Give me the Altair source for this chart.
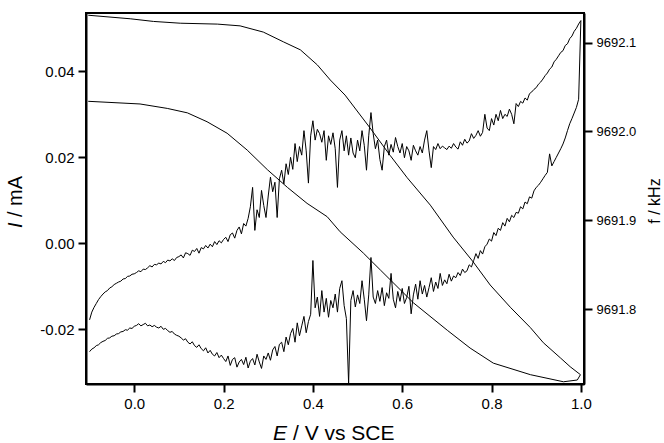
import altair as alt
import pandas as pd

# Potential grid (V vs SCE) shared by both current branches
E_grid = [
    -0.100, -0.095, -0.090, -0.085, -0.080, -0.075, -0.070, -0.065, -0.060, -0.055,
    -0.050, -0.045, -0.040, -0.035, -0.030, -0.025, -0.020, -0.015, -0.010, -0.005,
    0.000, 0.005, 0.010, 0.015, 0.020, 0.025, 0.030, 0.035, 0.040, 0.045,
    0.050, 0.055, 0.060, 0.065, 0.070, 0.075, 0.080, 0.085, 0.090, 0.095,
    0.100, 0.105, 0.110, 0.115, 0.120, 0.125, 0.130, 0.135, 0.140, 0.145,
    0.150, 0.155, 0.160, 0.165, 0.170, 0.175, 0.180, 0.185, 0.190, 0.195,
    0.200, 0.205, 0.210, 0.215, 0.220, 0.225, 0.230, 0.235, 0.240, 0.245,
    0.250, 0.255, 0.260, 0.265, 0.270, 0.275, 0.280, 0.285, 0.290, 0.295,
    0.300, 0.305, 0.310, 0.315, 0.320, 0.325, 0.330, 0.335, 0.340, 0.345,
    0.350, 0.355, 0.360, 0.365, 0.370, 0.375, 0.380, 0.385, 0.390, 0.395,
    0.400, 0.405, 0.410, 0.415, 0.420, 0.425, 0.430, 0.435, 0.440, 0.445,
    0.450, 0.455, 0.460, 0.465, 0.470, 0.475, 0.480, 0.485, 0.490, 0.495,
    0.500, 0.505, 0.510, 0.515, 0.520, 0.525, 0.530, 0.535, 0.540, 0.545,
    0.550, 0.555, 0.560, 0.565, 0.570, 0.575, 0.580, 0.585, 0.590, 0.595,
    0.600, 0.605, 0.610, 0.615, 0.620, 0.625, 0.630, 0.635, 0.640, 0.645,
    0.650, 0.655, 0.660, 0.665, 0.670, 0.675, 0.680, 0.685, 0.690, 0.695,
    0.700, 0.705, 0.710, 0.715, 0.720, 0.725, 0.730, 0.735, 0.740, 0.745,
    0.750, 0.755, 0.760, 0.765, 0.770, 0.775, 0.780, 0.785, 0.790, 0.795,
    0.800, 0.805, 0.810, 0.815, 0.820, 0.825, 0.830, 0.835, 0.840, 0.845,
    0.850, 0.855, 0.860, 0.865, 0.870, 0.875, 0.880, 0.885, 0.890, 0.895,
    0.900, 0.905, 0.910, 0.915, 0.920, 0.925, 0.930, 0.935, 0.940, 0.945,
    0.950, 0.955, 0.960, 0.965, 0.970, 0.975, 0.980, 0.985, 0.990, 0.995,
    1.000,
]

# Current (mA), anodic (forward) scan
I_forward = [
    -0.0178, -0.0160, -0.0149, -0.0140, -0.0131, -0.0124, -0.0118, -0.0113, -0.0110, -0.0104,
    -0.0101, -0.0096, -0.0093, -0.0090, -0.0088, -0.0083, -0.0082, -0.0077, -0.0076, -0.0072,
    -0.0071, -0.0068, -0.0064, -0.0066, -0.0060, -0.0061, -0.0057, -0.0052, -0.0055, -0.0049,
    -0.0050, -0.0046, -0.0048, -0.0042, -0.0045, -0.0039, -0.0041, -0.0036, -0.0040, -0.0033,
    -0.0031, -0.0027, -0.0034, -0.0022, -0.0024, -0.0028, -0.0016, -0.0019, -0.0012, -0.0023,
    -0.0010, -0.0013, -0.0005, -0.0011, -0.0002, -0.0008, 0.0004, -0.0003, 0.0006, 0.0001,
    0.0009, 0.0014, 0.0004, 0.0020, 0.0024, 0.0012, 0.0030, 0.0038, 0.0022, 0.0046,
    0.0040, 0.0058, 0.0085, 0.0130, 0.0030, 0.0078, 0.0060, 0.0123, 0.0088, 0.0060,
    0.0110, 0.0154, 0.0120, 0.0142, 0.0060, 0.0150, 0.0170, 0.0138, 0.0185, 0.0160,
    0.0200, 0.0172, 0.0232, 0.0190, 0.0225, 0.0205, 0.0262, 0.0215, 0.0140, 0.0250,
    0.0285, 0.0240, 0.0265, 0.0255, 0.0235, 0.0262, 0.0193, 0.0250, 0.0230, 0.0257,
    0.0220, 0.0130, 0.0240, 0.0262, 0.0215, 0.0250, 0.0205, 0.0245, 0.0210, 0.0199,
    0.0240, 0.0215, 0.0262, 0.0228, 0.0170, 0.0250, 0.0304, 0.0255, 0.0220, 0.0240,
    0.0195, 0.0170, 0.0225, 0.0240, 0.0205, 0.0230, 0.0212, 0.0246, 0.0225, 0.0210,
    0.0232, 0.0199, 0.0225, 0.0215, 0.0193, 0.0228, 0.0215, 0.0205, 0.0225, 0.0210,
    0.0240, 0.0262, 0.0215, 0.0176, 0.0225, 0.0218, 0.0232, 0.0220, 0.0226, 0.0222,
    0.0218, 0.0226, 0.0221, 0.0232, 0.0224, 0.0219, 0.0236, 0.0228, 0.0242, 0.0233,
    0.0238, 0.0255, 0.0244, 0.0251, 0.0262, 0.0249, 0.0258, 0.0300, 0.0268, 0.0262,
    0.0290, 0.0275, 0.0300, 0.0285, 0.0309, 0.0290, 0.0300, 0.0295, 0.0312, 0.0300,
    0.0278, 0.0325, 0.0318, 0.0330, 0.0326, 0.0338, 0.0333, 0.0348, 0.0352, 0.0358,
    0.0362, 0.0370, 0.0375, 0.0382, 0.0390, 0.0396, 0.0405, 0.0410, 0.0422, 0.0428,
    0.0436, 0.0444, 0.0448, 0.0460, 0.0464, 0.0476, 0.0482, 0.0493, 0.0500, 0.0510,
    0.0518,
]

# Current (mA), cathodic (reverse) scan, listed on the same ascending grid
I_reverse = [
    -0.0252, -0.0246, -0.0243, -0.0238, -0.0236, -0.0231, -0.0228, -0.0226, -0.0221, -0.0220,
    -0.0216, -0.0215, -0.0211, -0.0210, -0.0206, -0.0205, -0.0201, -0.0202, -0.0197, -0.0198,
    -0.0193, -0.0191, -0.0187, -0.0192, -0.0189, -0.0186, -0.0192, -0.0190, -0.0194, -0.0191,
    -0.0195, -0.0197, -0.0193, -0.0200, -0.0198, -0.0203, -0.0207, -0.0205, -0.0211, -0.0214,
    -0.0216, -0.0220, -0.0225, -0.0222, -0.0230, -0.0234, -0.0229, -0.0238, -0.0242, -0.0236,
    -0.0245, -0.0250, -0.0243, -0.0255, -0.0249, -0.0258, -0.0262, -0.0254, -0.0266, -0.0260,
    -0.0268, -0.0275, -0.0262, -0.0284, -0.0270, -0.0266, -0.0288, -0.0276, -0.0270, -0.0282,
    -0.0265, -0.0290, -0.0274, -0.0268, -0.0283, -0.0258, -0.0276, -0.0291, -0.0262, -0.0270,
    -0.0255, -0.0272, -0.0248, -0.0240, -0.0262, -0.0235, -0.0230, -0.0252, -0.0218, -0.0236,
    -0.0210, -0.0198, -0.0230, -0.0185, -0.0215, -0.0192, -0.0170, -0.0208, -0.0182, -0.0165,
    -0.0040, -0.0150, -0.0125, -0.0170, -0.0110, -0.0160, -0.0128, -0.0172, -0.0133, -0.0150,
    -0.0118, -0.0160, -0.0105, -0.0087, -0.0145, -0.0175, -0.0326, -0.0133, -0.0110, -0.0148,
    -0.0120, -0.0140, -0.0087, -0.0130, -0.0180, -0.0120, -0.0033, -0.0125, -0.0140, -0.0110,
    -0.0135, -0.0103, -0.0145, -0.0115, -0.0128, -0.0070, -0.0130, -0.0150, -0.0112, -0.0135,
    -0.0105, -0.0140, -0.0126, -0.0100, -0.0164, -0.0120, -0.0095, -0.0130, -0.0087, -0.0118,
    -0.0098, -0.0125, -0.0103, -0.0080, -0.0112, -0.0090, -0.0105, -0.0070, -0.0098, -0.0085,
    -0.0094, -0.0072, -0.0088, -0.0076, -0.0080, -0.0068, -0.0075, -0.0060, -0.0068, -0.0064,
    -0.0050, -0.0055, -0.0040, -0.0024, -0.0035, -0.0017, -0.0025, -0.0008, -0.0002, 0.0010,
    0.0005, 0.0025, 0.0018, 0.0035, 0.0030, 0.0048, 0.0040, 0.0058, 0.0050, 0.0065,
    0.0060, 0.0072, 0.0070, 0.0085, 0.0080, 0.0096, 0.0092, 0.0108, 0.0105, 0.0122,
    0.0130, 0.0135, 0.0142, 0.0150, 0.0158, 0.0165, 0.0208, 0.0180, 0.0190, 0.0200,
    0.0210, 0.0220, 0.0231, 0.0245, 0.0262, 0.0278, 0.0290, 0.0303, 0.0316, 0.0335,
    0.0518,
]

# Frequency (kHz), forward scan (upper curve), left to right
E_f_upper = [-0.103, -0.009, 0.043, 0.103, 0.186, 0.237, 0.289, 0.334, 0.372, 0.410,
             0.439, 0.472, 0.528, 0.573, 0.611, 0.663, 0.714, 0.759, 0.797, 0.842,
             0.887, 0.916, 0.954, 0.976, 0.999]
f_upper = [9692.131, 9692.127, 9692.124, 9692.122, 9692.121, 9692.119, 9692.112, 9692.101,
           9692.092, 9692.075, 9692.058, 9692.041, 9692.004, 9691.973, 9691.948, 9691.917,
           9691.881, 9691.853, 9691.827, 9691.802, 9691.779, 9691.762, 9691.745, 9691.735,
           9691.726]

# Frequency (kHz), reverse scan (lower curve), right to left
E_f_lower = [0.992, 0.961, 0.887, 0.804, 0.752, 0.701, 0.625, 0.551, 0.513, 0.461,
             0.432, 0.387, 0.343, 0.298, 0.253, 0.208, 0.163, 0.119, 0.074, 0.013, -0.103]
f_lower = [9691.720, 9691.718, 9691.726, 9691.739, 9691.756, 9691.776, 9691.807, 9691.844,
           9691.863, 9691.887, 9691.904, 9691.919, 9691.937, 9691.957, 9691.979, 9691.998,
           9692.011, 9692.021, 9692.026, 9692.031, 9692.034]

x_ticks = [0.0, 0.2, 0.4, 0.6, 0.8, 1.0]
i_ticks = [-0.02, 0.0, 0.02, 0.04]
f_ticks = [9691.8, 9691.9, 9692.0, 9692.1]

cur = pd.DataFrame({
    "E": E_grid + E_grid[::-1],
    "I": I_forward + I_reverse[::-1],
    "n": list(range(2 * len(E_grid))),
})
freq = pd.DataFrame({
    "E": E_f_upper + E_f_lower,
    "f": f_upper + f_lower,
    "n": list(range(len(E_f_upper) + len(E_f_lower))),
})

FONT = "Liberation Sans"
x_scale = alt.Scale(domain=[-0.108, 1.007], nice=False, zero=False)
x_axis = alt.Axis(values=x_ticks, format=".1f", title="", orient="bottom", labelFontSize=15)

current = alt.Chart(cur).mark_line(color="black", strokeWidth=1, clip=True).encode(
    x=alt.X("E:Q", scale=x_scale, axis=x_axis),
    y=alt.Y("I:Q", scale=alt.Scale(domain=[-0.03272, 0.05356], nice=False, zero=False),
            axis=alt.Axis(values=i_ticks, orient="left", title="", labelFontSize=15,
                          labelExpr="replace(format(datum.value, '.2f'), '\u2212', '-')")),
    order="n:Q",
)

frequency = alt.Chart(freq).mark_line(color="black", strokeWidth=1, clip=True).encode(
    x=alt.X("E:Q", scale=x_scale, axis=x_axis),
    y=alt.Y("f:Q", scale=alt.Scale(domain=[9691.7155, 9692.1335], nice=False, zero=False),
            axis=alt.Axis(values=f_ticks, orient="right", format=".1f", title="",
                          labelFontSize=13)),
    order="n:Q",
)


def label(text, x, y, size, angle=0, italic=False, align="left", baseline="alphabetic"):
    kw = dict(align=align, baseline=baseline, fontSize=size, font=FONT, color="black")
    if angle:
        kw["angle"] = angle
    if italic:
        kw["fontStyle"] = "italic"
    return alt.Chart(pd.DataFrame({"t": [text]})).mark_text(**kw).encode(
        text="t:N", x=alt.value(x), y=alt.value(y)
    )


titles = [
    label("E", 187, 427, 21, italic=True),
    label("/ V vs SCE", 207, 427, 21),
    label("I", -64, 215, 20, angle=270, italic=True),
    label("/ mA", -64, 204, 20, angle=270),
    label("f / kHz", 574, 188, 16, angle=270, align="center"),
]

chart = alt.layer(current, frequency, *titles).resolve_scale(y="independent").properties(
    width=498,
    height=371,
    autosize=alt.AutoSizeParams(type="none"),
    padding={"left": 86, "top": 13, "right": 80, "bottom": 59},
    background="white",
).configure_axis(
    domainColor="black", domainWidth=2, tickColor="black", tickWidth=2, tickSize=8,
    labelFont=FONT, labelColor="black", labelPadding=4, grid=False,
).configure_view(stroke="black", strokeWidth=2)

chart.save("out.html", embed_options={"renderer": "svg", "actions": False})
